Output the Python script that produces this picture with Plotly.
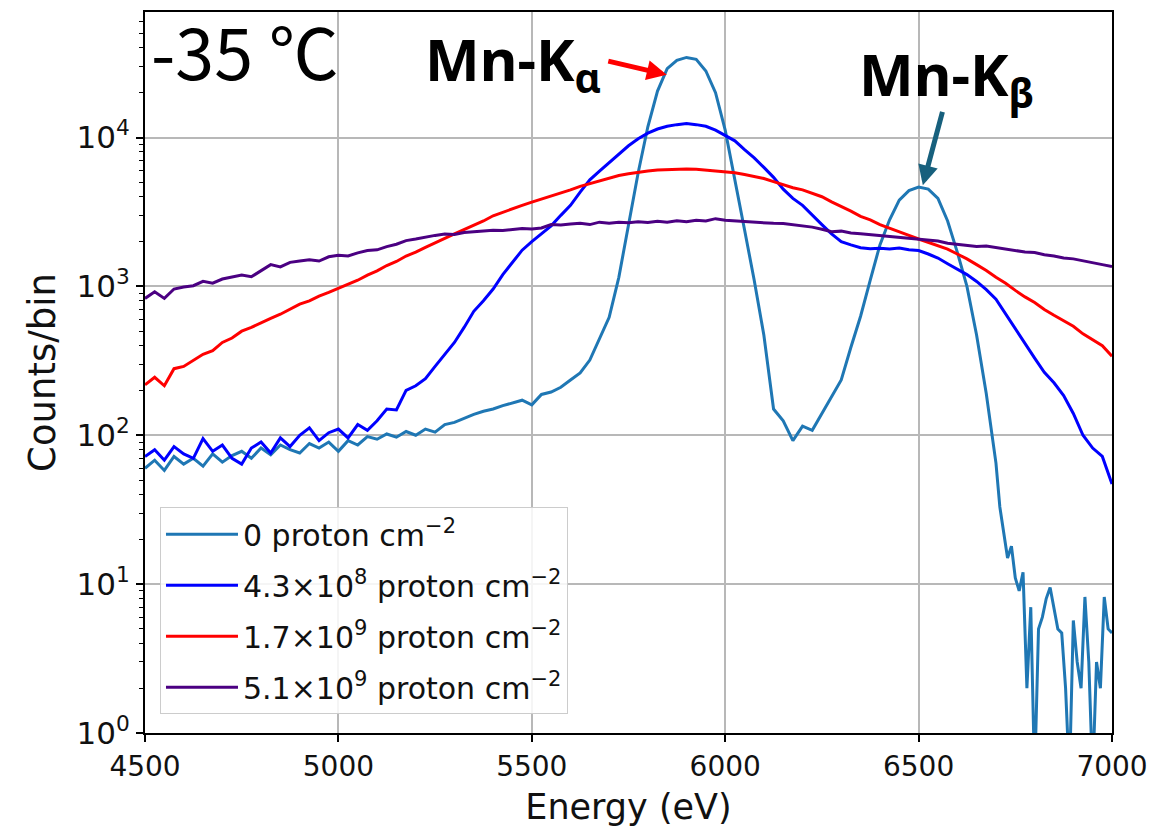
import plotly.graph_objects as go

# ---------------- data ----------------
energy = list(range(4500, 7001, 25))          # 101 bins (eV)
energy0_main = list(range(4500, 6701, 25))    # 89 bins
energy0_tail = list(range(6710, 7001, 10))    # 30 bins

counts_0_main = [
    60, 68, 58, 72, 64, 70, 62, 75, 66, 73,
    78, 70, 82, 74, 86, 80, 76, 88, 82, 90,
    78, 92, 86, 98, 94, 102, 97, 106, 100, 110,
    105, 118, 122, 130, 138, 145, 150, 158, 165, 172,
    160, 188, 195, 210, 235, 262, 320, 450, 620, 1150,
    2600, 5800, 11800, 20500, 29000, 33000, 34500, 33500, 28000, 20000,
    11200, 5300, 2400, 1100, 470, 150, 125, 92, 115, 108,
    140, 185, 235, 390, 630, 1100, 1900, 2800, 3800, 4400,
    4650, 4500, 3900, 2750, 1700, 1000, 470, 190, 65,
]
counts_0_tail = [
    33, 22, 15, 18, 11, 9, 12, 2, 7, 0.5,
    5, 6, 8, 9.5, 7, 5, 4.7, 2, 0.5, 5.7,
    3, 2, 8.2, 3, 0.5, 3, 2, 8.2, 5, 4.7,
]
counts_43e8 = [
    72, 80, 68, 84, 75, 70, 95, 78, 86, 70,
    64, 82, 90, 76, 96, 84, 100, 112, 92, 104,
    110, 96, 118, 108, 125, 150, 148, 200, 215, 240,
    290, 350, 420, 530, 680, 800, 960, 1200, 1450, 1750,
    2000, 2250, 2550, 3000, 3500, 4300, 5200, 5950, 6800, 7800,
    8800, 9800, 10700, 11400, 11900, 12200, 12400, 12200, 11900, 11200,
    10300, 9500, 8300, 7300, 6300, 5400, 4500, 3900, 3500, 3000,
    2600, 2250, 2000, 1900, 1820, 1790, 1800, 1780, 1810, 1760,
    1740, 1650, 1550, 1420, 1310, 1200, 1080, 950, 820, 650,
    520, 410, 330, 265, 225, 185, 140, 100, 82, 72,
    47,
]
counts_17e9 = [
    218, 245, 215, 280, 290, 320, 350, 370, 420, 450,
    500, 530, 570, 610, 650, 700, 760, 800, 860, 910,
    970, 1040, 1100, 1190, 1270, 1380, 1470, 1600, 1700, 1830,
    1950, 2100, 2250, 2400, 2570, 2750, 2980, 3150, 3350, 3500,
    3680, 3850, 4050, 4250, 4450, 4700, 4900, 5150, 5350, 5550,
    5700, 5850, 5950, 6050, 6100, 6120, 6150, 6120, 6050, 6000,
    5900, 5800, 5650, 5500, 5300, 5050, 4800, 4600, 4450, 4200,
    4000, 3700, 3450, 3200, 2950, 2800, 2600, 2450, 2320, 2200,
    2080, 1980, 1880, 1780, 1650, 1530, 1400, 1280, 1150, 1050,
    940, 850, 780, 700, 640, 590, 540, 480, 440, 400,
    340,
]
counts_51e9 = [
    830, 920, 830, 960, 990, 1010, 1080, 1050, 1120, 1150,
    1190, 1160, 1280, 1400, 1350, 1450, 1480, 1510, 1480, 1580,
    1620, 1600, 1680, 1740, 1760, 1850, 1920, 2030, 2080, 2150,
    2200, 2250, 2230, 2300, 2320, 2340, 2380, 2370, 2420, 2450,
    2430, 2470, 2600, 2580, 2620, 2650, 2600, 2700, 2660, 2700,
    2680, 2720, 2690, 2740, 2700, 2760, 2720, 2780, 2750, 2850,
    2780, 2750, 2720, 2700, 2680, 2650, 2640, 2600, 2560, 2500,
    2420, 2330, 2350, 2280, 2260, 2230, 2200, 2170, 2140, 2100,
    2080, 2050, 2020, 1950, 1920, 1880, 1850, 1870, 1830, 1780,
    1740, 1700, 1690, 1630, 1600, 1550, 1530, 1480, 1440, 1400,
    1360,
]

series_names = [
    "0 proton cm<sup>−2</sup>",
    "4.3×10<sup>8</sup> proton cm<sup>−2</sup>",
    "1.7×10<sup>9</sup> proton cm<sup>−2</sup>",
    "5.1×10<sup>9</sup> proton cm<sup>−2</sup>",
]
series_colors = ["#1f77b4", "#0000ff", "#ff0000", "#4b0082"]

x_ticks = [4500, 5000, 5500, 6000, 6500, 7000]
y_ticks = [1, 10, 100, 1000, 10000]
y_ticktext = ["10<sup>0</sup>", "10<sup>1</sup>", "10<sup>2</sup>", "10<sup>3</sup>", "10<sup>4</sup>"]
y_minor = [m * 10 ** k for k in range(0, 5) for m in range(2, 10)]

# ---------------- figure ----------------
FONT = "DejaVu Sans"
fig = go.Figure()
xs = [energy0_main + energy0_tail, energy, energy, energy]
ys = [counts_0_main + counts_0_tail, counts_43e8, counts_17e9, counts_51e9]
for i in range(4):
    fig.add_trace(go.Scatter(
        x=xs[i], y=ys[i], mode="lines", name=series_names[i],
        legendgroup=f"g{i}",
        line=dict(color=series_colors[i], width=3),
    ))

axis_common = dict(
    showline=True, linecolor="black", linewidth=2, mirror=True,
    ticks="outside", ticklen=7, tickwidth=1.5, tickcolor="black",
    showgrid=True, gridcolor="#b8b8b8", gridwidth=1.5,
    zeroline=False,
)

fig.update_layout(
    width=1173, height=834,
    margin=dict(l=145, r=61, t=10, b=101),
    paper_bgcolor="white", plot_bgcolor="white",
    xaxis=dict(range=[4500, 7000], tickvals=x_ticks, title_text="Energy (eV)",
               title_standoff=13,
               tickfont=dict(family=FONT, size=28, color="#111"),
               title_font=dict(family=FONT, size=35, color="#111"),
               **axis_common),
    yaxis=dict(type="log", range=[0, 4.843], tickvals=y_ticks, ticktext=y_ticktext,
               title_text="Counts/bin", title_standoff=10,
               tickfont=dict(family=FONT, size=31, color="#111"),
               title_font=dict(family=FONT, size=37, color="#111"),
               minor=dict(tickvals=y_minor, ticks="outside", ticklen=4,
                          tickcolor="black", tickwidth=1, showgrid=False),
               **axis_common),
    legend=dict(x=0.0155, y=0.313, xanchor="left", yanchor="top",
                bgcolor="rgba(255,255,255,0.85)", bordercolor="#cccccc", borderwidth=1,
                font=dict(family=FONT, size=30, color="#111"),
                tracegroupgap=9, itemwidth=72),
    showlegend=True,
)

# text annotations
fig.add_annotation(xref="paper", yref="paper", x=0.004, y=0.948, xanchor="left", yanchor="middle",
                   text="-35 ℃", showarrow=False,
                   font=dict(family="Noto Sans CJK JP", size=70, color="black"))
fig.add_annotation(xref="paper", yref="paper", x=0.288, y=0.93, xanchor="left", yanchor="middle",
                   text="<b>Mn-K<sub>α</sub></b>", showarrow=False,
                   font=dict(family="Noto Sans", size=58, color="black"))
fig.add_annotation(xref="paper", yref="paper", x=0.736, y=0.91, xanchor="left", yanchor="middle",
                   text="<b>Mn-K<sub>β</sub></b>", showarrow=False,
                   font=dict(family="Noto Sans", size=58, color="black"))

# arrows
fig.add_annotation(xref="x", yref="y", x=5849, y=4.421, ax=-60, ay=-14,
                   text="", showarrow=True, arrowhead=2, arrowsize=0.8,
                   arrowwidth=5, arrowcolor="#ff0000")
fig.add_annotation(xref="x", yref="y", x=6511, y=3.679, ax=20, ay=-75,
                   text="", showarrow=True, arrowhead=2, arrowsize=0.8,
                   arrowwidth=5, arrowcolor="#17607d")

fig.write_html("out.html")
